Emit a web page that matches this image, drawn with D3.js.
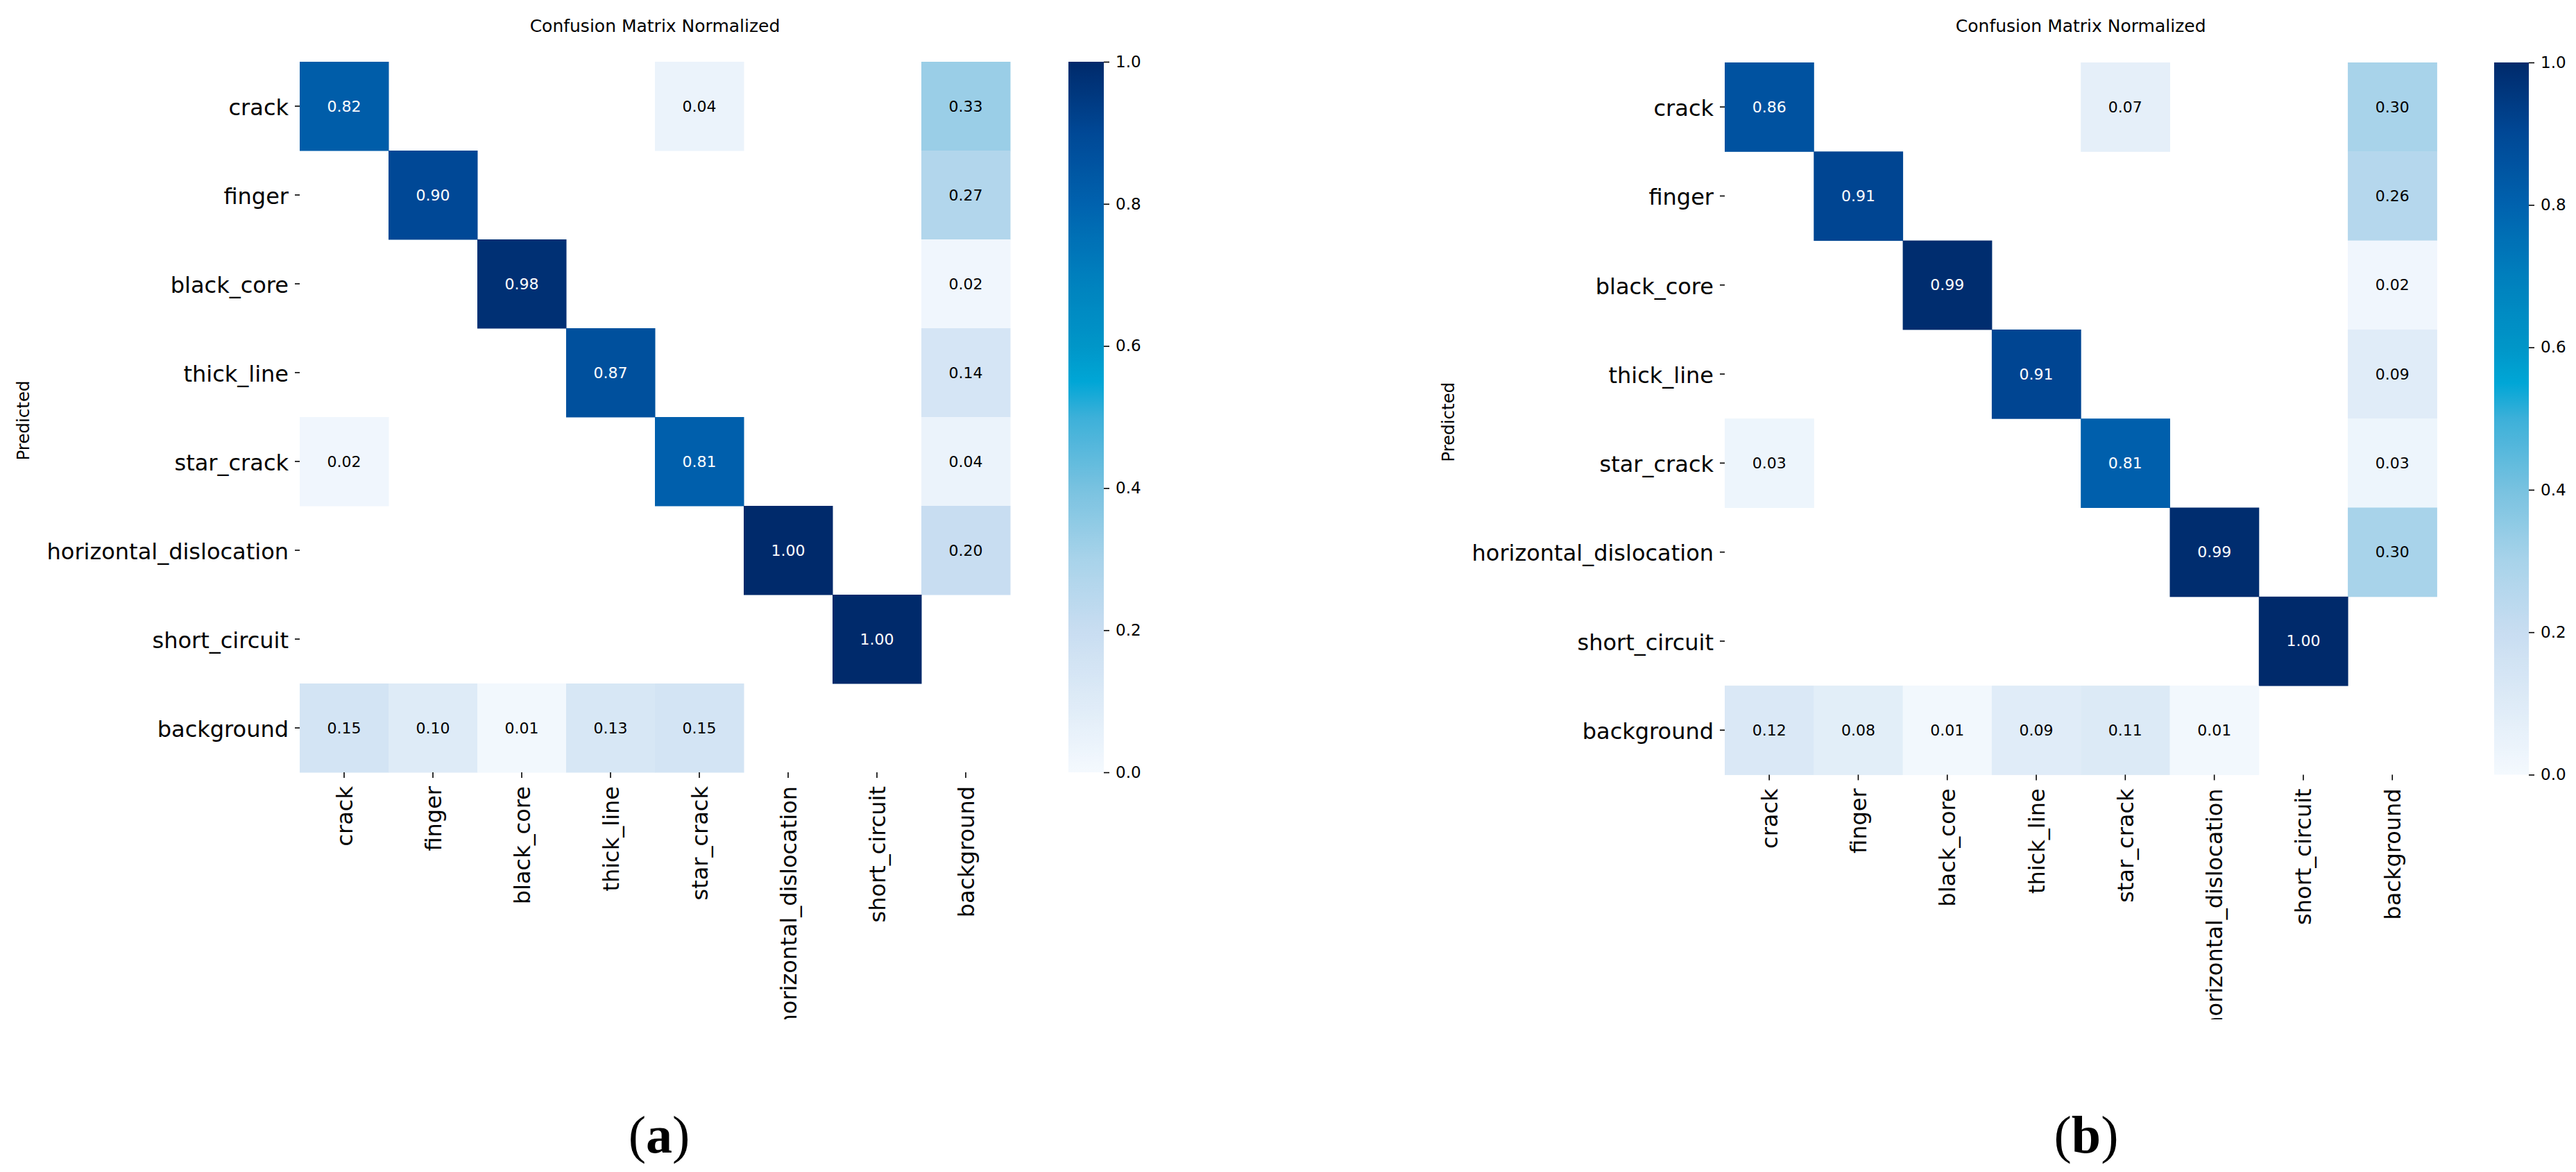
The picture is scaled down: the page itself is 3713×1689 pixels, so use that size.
<!DOCTYPE html>
<html>
<head>
<meta charset="utf-8">
<script src="https://cdn.jsdelivr.net/npm/d3@7"></script>
<style>
  html, body { margin: 0; padding: 0; background: #fff; }
  svg { display: block; }
</style>
</head>
<body>
<script>
// ---------- data ----------
const categories = ["crack", "finger", "black_core", "thick_line", "star_crack",
  "horizontal_dislocation", "short_circuit", "background"];

// rows = predicted, columns = true; null = empty cell
const matrixA = [
  [0.82, null, null, null, 0.04, null, null, 0.33],
  [null, 0.90, null, null, null, null, null, 0.27],
  [null, null, 0.98, null, null, null, null, 0.02],
  [null, null, null, 0.87, null, null, null, 0.14],
  [0.02, null, null, null, 0.81, null, null, 0.04],
  [null, null, null, null, null, 1.00, null, 0.20],
  [null, null, null, null, null, null, 1.00, null],
  [0.15, 0.10, 0.01, 0.13, 0.15, null, null, null]
];
const matrixB = [
  [0.86, null, null, null, 0.07, null, null, 0.30],
  [null, 0.91, null, null, null, null, null, 0.26],
  [null, null, 0.99, null, null, null, null, 0.02],
  [null, null, null, 0.91, null, null, null, 0.09],
  [0.03, null, null, null, 0.81, null, null, 0.03],
  [null, null, null, null, null, 0.99, null, 0.30],
  [null, null, null, null, null, null, 1.00, null],
  [0.12, 0.08, 0.01, 0.09, 0.11, 0.01, null, null]
];
const colorbarTicks = [0, 0.2, 0.4, 0.6, 0.8, 1.0];
const titleText = "Confusion Matrix Normalized";
const yAxisLabel = "Predicted";
const panelLabels = ["a", "b"];

// ---------- colormap ----------
const cmapStops = [0, 0.1, 0.2, 0.3, 0.4, 0.5, 0.55, 0.6, 0.7, 0.8, 0.9, 1.0];
const cmapColors = ["#f4f9fe", "#deebf7", "#c8ddf1", "#a8d3ea", "#78c2e0", "#3cb0d9",
  "#00a6d6", "#0096c8", "#007fbd", "#0062ae", "#004896", "#002a6b"];
const color = d3.scaleLinear().domain(cmapStops).range(cmapColors).interpolate(d3.interpolateRgb);

const W = 3713, H = 1689;
const svg = d3.select("body").append("svg").attr("width", W).attr("height", H)
  .attr("viewBox", `0 0 ${W} ${H}`);
svg.append("rect").attr("width", W).attr("height", H).attr("fill", "#fff");

const FONT = "DejaVu Sans, sans-serif";
const defs = svg.append("defs");

// colorbar gradient
const grad = defs.append("linearGradient").attr("id", "cbgrad")
  .attr("x1", 0).attr("y1", 1).attr("x2", 0).attr("y2", 0);
d3.range(0, 1.0001, 0.01).forEach(t => {
  grad.append("stop").attr("offset", t).attr("stop-color", color(t));
});

function drawPanel(matrix, opt) {
  const g = svg.append("g");
  const x0 = opt.x0, y0 = opt.y0, size = opt.cell * categories.length;

  const x = d3.scaleBand().domain(categories).range([x0, x0 + size]);
  const y = d3.scaleBand().domain(categories).range([y0, y0 + size]);

  const cells = [];
  matrix.forEach((row, i) => row.forEach((v, j) => {
    if (v !== null) cells.push({ r: categories[i], c: categories[j], v });
  }));

  g.selectAll("rect.cell").data(cells).enter().append("rect")
    .attr("class", "cell")
    .attr("x", d => x(d.c)).attr("y", d => y(d.r))
    .attr("width", x.bandwidth() + 0.5).attr("height", y.bandwidth() + 0.5)
    .attr("fill", d => color(d.v));

  g.selectAll("text.annot").data(cells).enter().append("text")
    .attr("class", "annot")
    .attr("x", d => x(d.c) + x.bandwidth() / 2)
    .attr("y", d => y(d.r) + y.bandwidth() / 2)
    .attr("text-anchor", "middle").attr("dominant-baseline", "central")
    .attr("font-family", FONT).attr("font-size", 22)
    .attr("fill", d => d.v > 0.5 ? "#ffffff" : "#000000")
    .text(d => d3.format(".2f")(d.v));

  // y axis
  const ya = g.append("g").attr("transform", `translate(${x0},0)`)
    .call(d3.axisLeft(y).tickSize(7).tickPadding(9));
  ya.select(".domain").remove();
  ya.selectAll("line").attr("stroke", "#000").attr("stroke-width", 1.6);
  ya.selectAll("text").attr("font-family", FONT).attr("font-size", 32)
    .attr("fill", "#000").attr("dy", "0.4em");

  // x axis (rotated labels, clipped at bottom like the reference)
  const clipId = "clip" + opt.id;
  defs.append("clipPath").attr("id", clipId).append("rect")
    .attr("x", x0 - 200).attr("y", -(y0 + size)).attr("width", size + 400).attr("height", opt.clipY);
  const xa = g.append("g").attr("transform", `translate(0,${y0 + size})`)
    .attr("clip-path", `url(#${clipId})`)
    .call(d3.axisBottom(x).tickSize(8).tickPadding(12));
  xa.select(".domain").remove();
  xa.selectAll("line").attr("stroke", "#000").attr("stroke-width", 1.6);
  xa.selectAll("text").attr("font-family", FONT).attr("font-size", 32)
    .attr("fill", "#000")
    .attr("text-anchor", "end")
    .attr("transform", "rotate(-90)")
    .attr("x", -20).attr("y", 0).attr("dy", "0.36em");

  // title
  g.append("text").attr("x", x0 + size / 2).attr("y", opt.titleY)
    .attr("text-anchor", "middle").attr("font-family", FONT).attr("font-size", 25)
    .attr("fill", "#000").text(titleText);

  // y label
  g.append("text").attr("transform", `translate(${opt.ylabelX},${y0 + size / 2 + 5}) rotate(-90)`)
    .attr("text-anchor", "middle").attr("font-family", FONT).attr("font-size", 24.5)
    .attr("fill", "#000").text(yAxisLabel);

  // colorbar
  const cb = d3.scaleLinear().domain([0, 1]).range([y0 + size, y0]);
  g.append("rect").attr("x", opt.cbX).attr("y", y0).attr("width", opt.cbW).attr("height", size)
    .attr("fill", "url(#cbgrad)");
  const ca = g.append("g").attr("transform", `translate(${opt.cbX + opt.cbW},0)`)
    .call(d3.axisRight(cb).tickValues(colorbarTicks).tickFormat(d3.format(".1f")).tickSize(8).tickPadding(9));
  ca.select(".domain").remove();
  ca.selectAll("line").attr("stroke", "#000").attr("stroke-width", 1.6);
  ca.selectAll("text").attr("font-family", FONT).attr("font-size", 23).attr("fill", "#000");

  // panel label
  const pl = g.append("text").attr("x", opt.labelX).attr("y", opt.labelY)
    .attr("text-anchor", "middle").attr("font-family", "Liberation Serif, Times New Roman, serif")
    .attr("font-size", 76).attr("fill", "#000");
  pl.append("tspan").text("(");
  pl.append("tspan").attr("font-weight", "bold").text(opt.label);
  pl.append("tspan").text(")");
}

drawPanel(matrixA, { id: "a", x0: 432, y0: 89, cell: 128.0, clipY: 1469, titleY: 46,
  ylabelX: 42, cbX: 1540, cbW: 51, labelX: 950, labelY: 1661, label: panelLabels[0] });
drawPanel(matrixB, { id: "b", x0: 2486, y0: 90, cell: 128.3, clipY: 1469, titleY: 46,
  ylabelX: 2096, cbX: 3595, cbW: 50, labelX: 3007, labelY: 1661, label: panelLabels[1] });
</script>
</body>
</html>
